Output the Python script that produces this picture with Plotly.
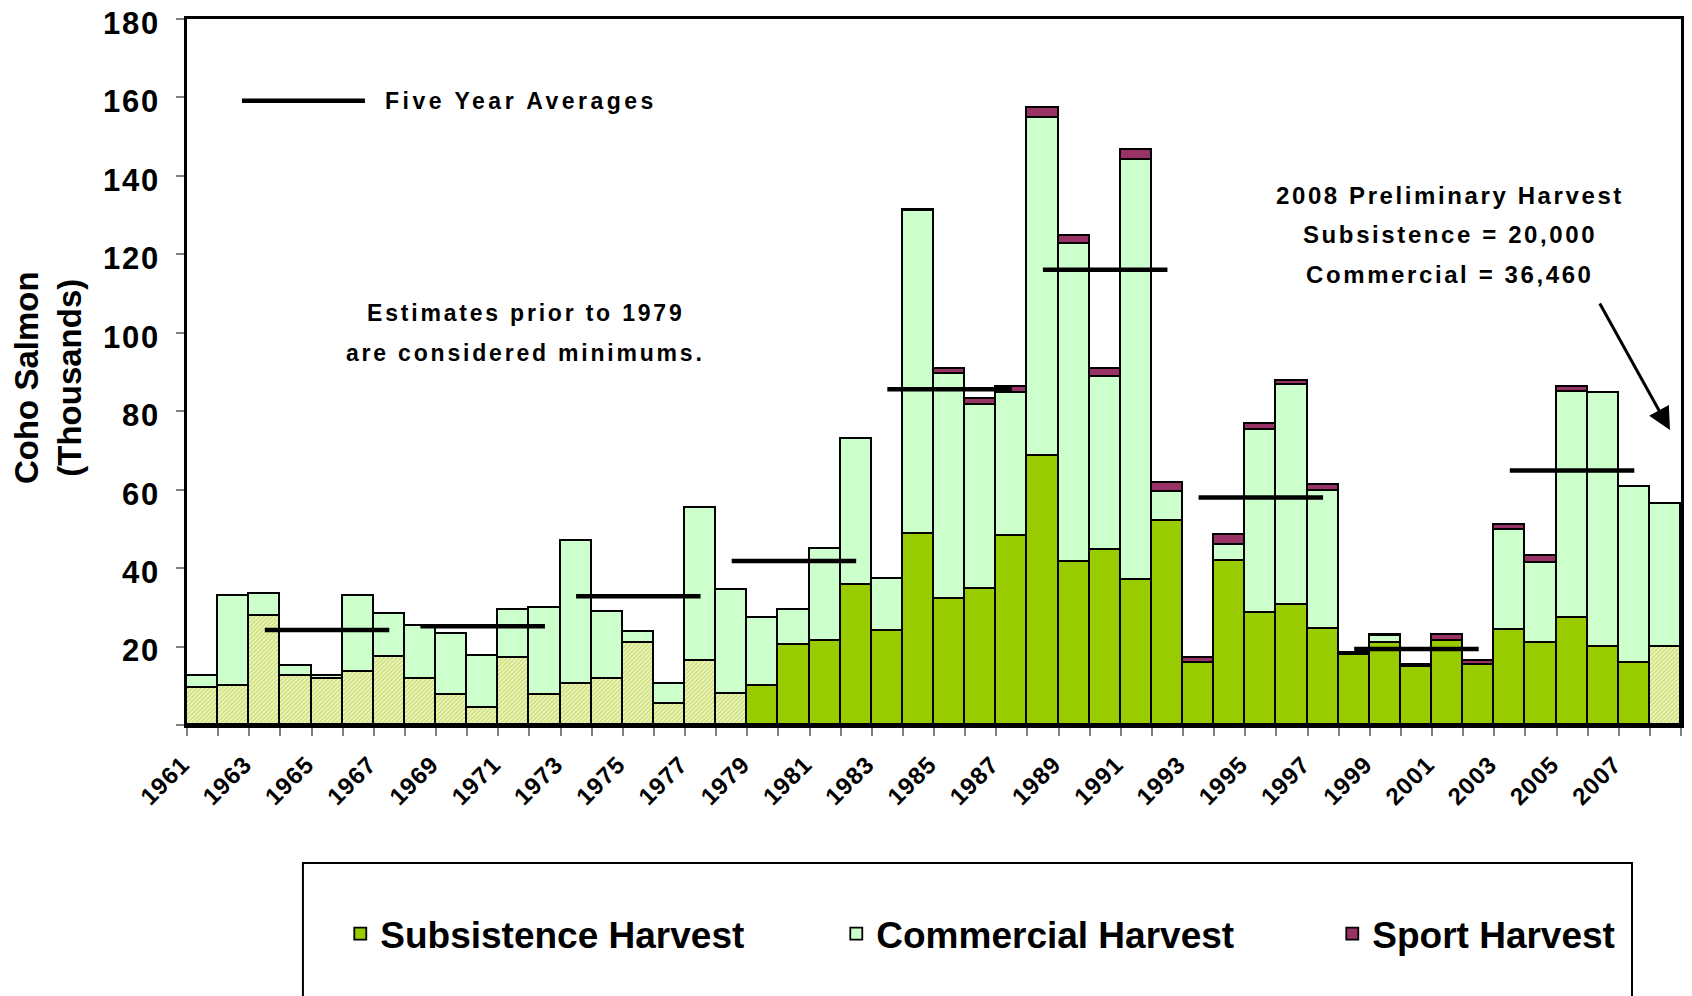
import plotly.graph_objects as go

# ---------------- data (thousands of coho salmon) ----------------
years = list(range(1961, 2009))

subsistence = [9.4, 9.9, 27.8, 12.4, 11.8, 13.5, 17.4, 11.8, 7.7, 4.3,
               17.0, 7.7, 10.4, 11.8, 21.0, 5.3, 16.4, 7.8, 9.9, 20.5,
               21.5, 35.8, 24.0, 48.8, 32.1, 34.6, 48.3, 68.7, 41.6, 44.7,
               37.0, 51.9, 15.8, 41.9, 28.5, 30.6, 24.6, 17.8, 20.9, 14.8,
               21.5, 15.4, 24.1, 20.9, 27.2, 20.0, 15.9, 20.0]

commercial = [3.1, 23.0, 5.6, 2.6, 0.6, 19.4, 10.9, 13.4, 15.4, 13.2,
              12.3, 22.2, 36.6, 16.9, 2.6, 5.1, 38.8, 26.5, 17.3, 8.7,
              23.4, 37.1, 13.2, 82.2, 57.5, 46.9, 36.3, 86.1, 81.0, 44.0,
              107.1, 7.6, None, 4.1, 46.8, 56.0, 35.1, None, 1.7, None,
              None, None, 25.5, 20.4, 57.7, 64.7, 44.9, 36.46]

sport = [None] * 23 + [0.4, 1.1, 1.5, 1.5, 2.6, 2.1, 2.0, 2.5, 2.1,
                       1.2, 2.5, 1.5, 1.2, 1.5, 0.6, 0.4, 0.6, 1.5, 1.0,
                       1.4, 1.7, 1.3, None, None, None]

# minimum estimates (pre-1979) and the 2008 preliminary figure are hatched
hatched = [y < 1979 or y == 2008 for y in years]

avg_start = [1963, 1968, 1973, 1978, 1983, 1988, 1993, 1998, 2003]
avg_end = [1967, 1972, 1977, 1982, 1987, 1992, 1997, 2002, 2007]
avg_value = [24.2, 25.2, 32.8, 41.8, 85.6, 116.1, 58.0, 19.4, 64.9]

y_ticks = [0, 20, 40, 60, 80, 100, 120, 140, 160, 180]
x_ticks = list(range(1961, 2008, 2))

FONT = "Liberation Sans, Arial, sans-serif"
C_SUB = "#99cc00"
C_COM = "#ccffcc"
C_SPT = "#993366"
OUT = dict(color="black", width=1.8)


def spaced(txt, px):
    return '<span style="letter-spacing:%spx">%s</span>' % (px, txt)


sub_hatched = [s if h else None for s, h in zip(subsistence, hatched)]
sub_solid = [None if h else s for s, h in zip(subsistence, hatched)]

fig = go.Figure()
fig.add_trace(go.Bar(
    x=years, y=sub_hatched, name="Subsistence (minimum / preliminary)",
    showlegend=False,
    marker=dict(color="#f4f9d6", line=OUT,
                pattern=dict(shape="/", fgcolor="#a8ca1e", bgcolor="#f4f9d6",
                             size=3, solidity=0.6))))
fig.add_trace(go.Bar(x=years, y=sub_solid, name="Subsistence Harvest",
                     marker=dict(color=C_SUB, line=OUT)))
fig.add_trace(go.Bar(x=years, y=commercial, name="Commercial Harvest",
                     marker=dict(color=C_COM, line=OUT)))
fig.add_trace(go.Bar(x=years, y=sport, name="Sport Harvest",
                     marker=dict(color=C_SPT, line=OUT)))

# five-year averages
ax_, ay_ = [], []
for s, e, v in zip(avg_start, avg_end, avg_value):
    ax_ += [s, e, None]
    ay_ += [v, v, None]
fig.add_trace(go.Scatter(x=ax_, y=ay_, mode="lines", showlegend=False,
                         name="Five Year Averages",
                         line=dict(color="black", width=4.5)))

# margins compensate for the 8px page margin around the figure
fig.update_layout(
    width=1692, height=996,
    margin=dict(l=179, r=19, t=11, b=279, autoexpand=False),
    paper_bgcolor="white", plot_bgcolor="white",
    barmode="stack", bargap=0,
    font=dict(family=FONT, color="black", weight="bold"),
    showlegend=True,
    legend=dict(orientation="h", x=0.1026, xanchor="left", y=-0.296,
                yanchor="middle", traceorder="normal",
                font=dict(size=37, family=FONT, weight="bold"),
                entrywidth=451, entrywidthmode="pixels",
                bgcolor="rgba(0,0,0,0)"),
)

fig.update_xaxes(
    automargin=False, ticklabeloverflow="allow",
    range=[1960.5, 2008.5], tickmode="array", tickvals=x_ticks,
    ticktext=[spaced(str(t), 1) for t in x_ticks], ticks="", tickangle=-45,
    tickfont=dict(size=24, family=FONT, weight="bold"),
    ticklabelstandoff=13, ticklabelshift=-20,
    showline=True, linecolor="black", linewidth=2.5, mirror=True,
    showgrid=False, zeroline=False,
    minor=dict(tickvals=[y - 0.5 for y in years] + [2008.5], ticks="outside",
               ticklen=8, tickcolor="#808080", tickwidth=2, showgrid=False),
)
fig.update_yaxes(
    automargin=False, ticklabeloverflow="allow",
    range=[0, 180], tickmode="array", tickvals=y_ticks,
    ticktext=["" if t == 0 else spaced(str(t), 1.8) for t in y_ticks],
    ticks="outside", ticklen=8, tickcolor="#808080", tickwidth=2,
    tickfont=dict(size=31, family=FONT, weight="bold"),
    ticklabelstandoff=10, ticklabelshift=4,
    showline=True, linecolor="black", linewidth=2.5, mirror=True,
    showgrid=False, zeroline=False,
)

# legend box extending past the bottom of the page
fig.add_shape(type="rect", xref="paper", yref="paper",
              x0=0.0776, x1=0.9672, y0=-0.1955, y1=-0.42,
              line=dict(color="black", width=2), fillcolor="rgba(0,0,0,0)")

# "Five Year Averages" key inside the plot
fig.add_shape(type="line", xref="paper", yref="paper",
              x0=0.0368, x1=0.1191, y0=0.8843, y1=0.8843,
              line=dict(color="black", width=4.5))
fig.add_annotation(xref="paper", yref="paper", x=0.1312, y=0.8843,
                   xanchor="left", yanchor="middle", showarrow=False,
                   text=spaced("Five Year Averages", 3.5),
                   font=dict(size=23, family=FONT, weight="bold"))

# y-axis title
fig.add_annotation(xref="paper", yref="paper", x=-0.093, y=0.4915,
                   xanchor="center", yanchor="middle", showarrow=False,
                   textangle=-90, text="Coho Salmon<br>(Thousands)",
                   font=dict(size=33, family=FONT, weight="bold"))

# notes
for txt, yy in [("Estimates prior to 1979", 0.5836),
                ("are considered minimums.", 0.5269)]:
    fig.add_annotation(xref="paper", yref="paper", x=0.2269, y=yy,
                       xanchor="center", yanchor="middle", showarrow=False,
                       text=spaced(txt, 2.8),
                       font=dict(size=23, family=FONT, weight="bold"))
for txt, yy in [("2008 Preliminary Harvest", 0.7507),
                ("Subsistence = 20,000", 0.6941),
                ("Commercial = 36,460", 0.6374)]:
    fig.add_annotation(xref="paper", yref="paper", x=0.8454, y=yy,
                       xanchor="center", yanchor="middle", showarrow=False,
                       text=spaced(txt, 2.6),
                       font=dict(size=24, family=FONT, weight="bold"))

fig.add_annotation(xref="paper", yref="paper", x=0.9926, y=0.4178,
                   text="", showarrow=True, arrowhead=2, arrowsize=1.5,
                   arrowwidth=3, arrowcolor="black", ax=-71, ay=-128)

fig.write_html("out.html")
